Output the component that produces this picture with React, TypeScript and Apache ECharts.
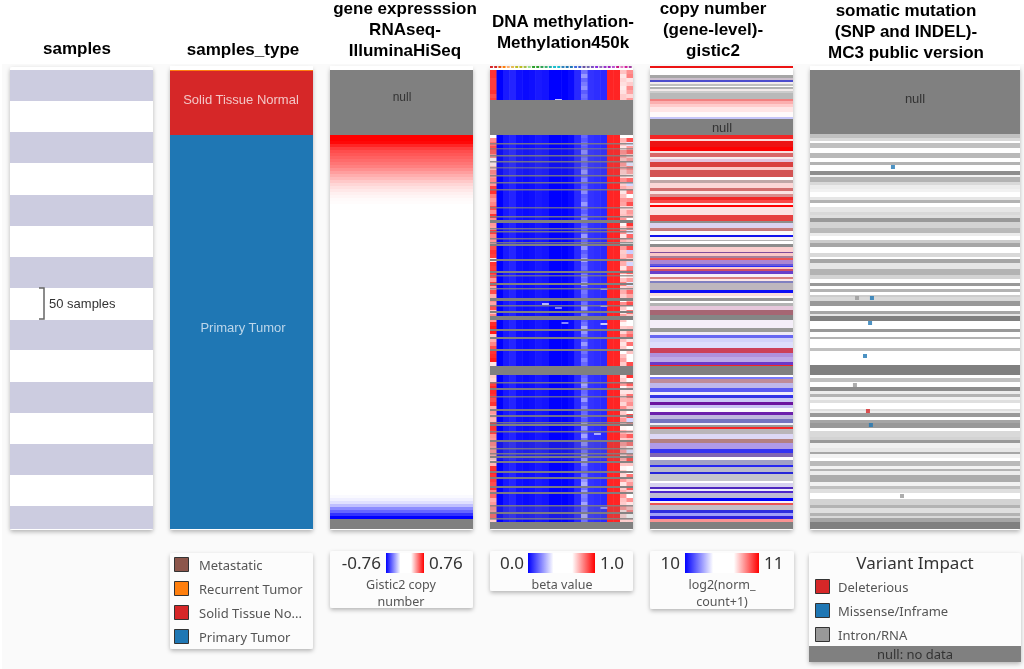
import React, { useEffect, useRef } from "react";
import * as echarts from "echarts";

// ---------- data ----------
const panelTitles = [
  { lines: ["samples"], cx: 77, firstY: 48 },
  { lines: ["samples_type"], cx: 243, firstY: 49 },
  { lines: ["gene expresssion", "RNAseq-", "IlluminaHiSeq"], cx: 405, firstY: 8 },
  { lines: ["DNA methylation-", "Methylation450k"], cx: 563, firstY: 21 },
  { lines: ["copy number", "(gene-level)-", "gistic2"], cx: 713, firstY: 8 },
  { lines: ["somatic mutation", "(SNP and INDEL)-", "MC3 public version"], cx: 906, firstY: 10 },
];

// row edges of the alternating 50-sample bands
const sampleBandEdges = [4, 35, 66, 97, 129, 160, 191, 222, 254, 284, 316, 347, 378, 409, 440, 463];

// [rows, category] top to bottom
const sampleTypeRuns: [number, string][] = [
  [4, "blank"], [1, "Recurrent Tumor"], [64, "Solid Tissue Normal"], [394, "Primary Tumor"],
];

// gene expression, z-score like values per three rows
const geneBlankRows = 4;
const geneNullRows = 65;
const geneHighValues = [1, 1, .97, .86, .76, .7, .66, .62, .58, .54, .5, .44, .38, .32, .27, .21, .16, .12, .09, .06, .04, .02, .01];
const geneWhiteRows = 291;
const geneLowValues = [.02, .06, .12, .25, .45, .6, .8, 1];
const geneTailNullRows = 10;

// copy number: [rows, red share, blue share, null share]
const copyNumberRuns: number[][] = [
  [2, .85, 0, .15], [7, 0, 0, 0], [3, 0, 0, .7], [2, .05, .05, .3], [2, 0, .5, .4], [2, .03, 0, .1], [2, 0, 0, .5], [1, 0, 0, 0],
  [2, 0, 0, .6], [2, .03, 0, .1], [2, 0, 0, .4], [6, 0, 0, .55], [2, .45, 0, .1], [3, .3, 0, .03], [3, .2, 0, 0], [5, .1, 0, 0],
  [5, .02, 0, 0], [2, 0, .2, .05], [16, 0, 0, 1], [4, .8, 0, .1], [2, .15, 0, 0], [6, .85, 0, .15], [4, 1, 0, 0], [2, .1, 0, .05],
  [4, .45, 0, .3], [2, .05, 0, .05], [3, .12, .1, .02], [5, .6, 0, .3], [3, .2, 0, .02], [7, .5, 0, .35], [3, 0, 0, 0], [3, .1, 0, .5],
  [5, .15, 0, .02], [3, .4, 0, .35], [3, .1, 0, .03], [3, .3, 0, .3], [3, .8, 0, .1], [3, .7, 0, .05], [2, .08, 0, 0], [2, 1, 0, 0],
  [8, .1, 0, .02], [6, .65, 0, .2], [2, 0, 0, .9], [5, .03, .12, .05], [3, .3, 0, .45], [4, 0, 0, .03], [2, 0, .85, .15], [3, .03, 0, .03],
  [1, 0, 0, .6], [3, 0, 0, 0], [3, 0, 0, .9], [5, .18, 0, .02], [1, .2, .3, .4], [3, .2, 0, .03], [2, .15, .1, .5], [2, .6, 0, .15],
  [4, .15, .3, .05], [2, .05, .5, .2], [1, 0, .8, .05], [2, .2, 0, .02], [2, .5, .1, .2], [3, .15, .55, .1], [3, .02, .03, .02], [2, .35, 0, .3],
  [2, .08, 0, .03], [2, 0, .25, .5], [7, .03, .03, .45], [3, 0, .9, .08], [3, .12, 0, .03], [2, .02, 0, .02], [3, 0, 0, .8], [2, 0, 0, 0],
  [3, 0, 0, .6], [4, .12, .08, .04], [5, .25, .05, .6], [5, 0, 0, .95], [8, .02, .04, .01], [4, 0, 0, .8], [3, .02, .05, .03], [3, 0, .55, .1],
  [4, 0, .15, .05], [6, 0, .12, .03], [5, .55, .1, .2], [4, .12, .3, .03], [5, .08, .25, .02], [3, .2, .55, .05], [1, .8, 0, .1], [9, 0, 0, 1],
  [2, 0, 0, 0], [2, 0, .5, .05], [4, .2, .05, .4], [5, .03, .2, .1], [4, 0, .6, .1], [3, .01, .05, .02], [3, 0, .7, .2], [4, .01, .18, .06],
  [3, .35, .55, .05], [3, .03, .2, .03], [4, 0, .01, .02], [3, .3, .55, .05], [4, .03, .15, .2], [4, 0, .3, .5], [2, 0, .04, .04], [2, 0, 0, .8],
  [2, .8, 0, .1], [5, .02, .02, .5], [5, .02, .12, .03], [4, .2, 0, .6], [6, .08, .3, .03], [4, 0, .75, .1], [4, .1, .3, .4], [3, 0, 0, .01],
  [5, 0, .15, .45], [2, 0, .8, .1], [5, 0, .08, .4], [2, 0, .7, .3], [7, 0, .03, .4], [2, 0, 0, 0], [4, .02, .12, .08], [2, .15, .6, .2],
  [2, 0, .05, .03], [2, .15, .65, .1], [5, .02, .1, .3], [3, 0, 1, 0], [2, .02, .02, .03], [2, .6, 0, .15], [5, .02, .03, .4], [3, 0, .7, .25],
  [3, 0, .35, .05], [3, .05, .75, .15], [3, .4, 0, .05], [7, 0, 0, 1],
];

// somatic mutation: [rows, share of intron/no-call samples]
const mutationRuns: number[][] = [
  [4, 0], [64, 1], [4, .5], [3, .3], [2, 0], [5, .5], [5, 0], [5, .55], [4, 0], [3, .6], [6, 0], [4, .9], [2, .1], [5, .6], [3, .3],
  [4, .15], [3, .1], [5, 0], [3, .2], [3, .6], [4, 0], [5, .2], [3, .3], [3, .25], [4, .8], [6, .35], [5, .55], [3, .15], [4, 0],
  [3, .4], [4, .7], [6, 0], [4, .3], [2, 0], [4, .7], [6, .2], [6, .6], [4, .35], [4, 0], [3, .8], [3, 0], [3, .6], [3, 0], [2, .4],
  [4, .3], [5, .8], [5, 0], [3, .7], [2, .2], [5, 1], [8, 0], [3, .8], [5, 0], [2, .6], [9, 0], [3, .5], [14, 0], [10, 1], [3, 0],
  [4, .5], [5, 0], [4, .9], [3, .15], [3, .6], [3, .1], [3, .25], [6, 0], [2, .25], [2, .15], [4, .8], [3, 0], [3, .7], [5, .8], [3, 0],
  [6, .3], [3, .35], [3, .8], [5, .12], [4, .2], [2, .7], [4, .1], [3, 0], [5, .55], [3, .1], [2, .6], [4, .15], [7, .65], [4, .1],
  [3, .5], [4, .25], [6, 0], [6, .35], [3, .6], [5, .25], [3, .6], [2, .3], [4, .7], [7, 1],
];
const missenseDots = [[.395, 101], [.295, 232], [.286, 257], [.262, 290], [.29, 359]];
const deleteriousDots = [[.276, 345]];
const intronDots = [[.224, 232], [.214, 319], [.438, 430]];

// methylation: beta value of each probe column
const methProbeBeta = [0, 0, .05, .07, .03, .02, .03, .05, .04, 0, 0, 0, .02, .08, .2, .1, .09, .08, .93, .93, .6, .7];
// varying probes, one value per four rows from the top of the matrix
const methFirstProbe = [
  .9, .9, .88, .88, .88, .9, .85, .88, .5, .5, .5, .5, .5, .5, .5, .5, .5,
  .72, .78, .85, .82, .72, .52, .54, .62, .74, .7,
  .74, .7, .88, .9, .76, .7, .74, .85, .72, .9,
  .72, .7, .68, .88, .74, .7, .66, .85, .9, .88,
  .55, .9, .88, .9, .85, .7, .88, .68, .85, .66,
  .72, .68, .85, .62, .74, .7, .92, .95, .95, .6,
  .66, .74, .85, .9, .92, .95, .55, .5, .5, .6,
  .58, .88, .92, .92, .9, .85, .9, .66, .7, .66,
  .64, .92, .9, .88, .72, .7, .74, .68, .7, .66,
  .6, .64, .9, .92, .9, .88, .85, .9, .74, .8,
  .66, .7, .72, .68, .8, .6, .55, .5,
];
const methProbe20 = [
  .62, .55, .58, .56, .54, .56, .6, .6, .5, .5, .5, .5, .5, .5, .5, .5, .5,
  .65, .6, .55, .72, .68, .62, .7, .66, .6, .58,
  .72, .6, .66, .55, .62, .7, .68, .58, .6, .62,
  .7, .52, .6, .72, .55, .66, .5, .7, .6, .62,
  .68, .66, .55, .7, .52, .62, .75, .58, .66, .6,
  .5, .72, .6, .55, .68, .62, .52, .6, .58, .7,
  .62, .55, .6, .5, .62, .68, .6, .5, .5, .55,
  .6, .7, .52, .55, .6, .65, .58, .72, .6, .62,
  .7, .6, .52, .66, .72, .6, .7, .62, .68, .58,
  .66, .62, .52, .6, .58, .7, .55, .6, .66, .7,
  .62, .6, .7, .55, .58, .6, .52, .5,
];
const methProbe21 = [
  .72, .75, .55, .6, .72, .68, .58, .7, .5, .5, .5, .5, .5, .5, .5, .5, .5,
  .85, .45, .7, .82, .6, .7, .45, .75, .68, .55,
  .8, .42, .62, .78, .5, .72, .85, .58, .7, .66,
  .5, .9, .72, .45, .8, .62, .5, .85, .4, .72,
  .6, .42, .75, .82, .55, .7, .45, .62, .8, .68,
  .72, .85, .5, .78, .6, .5, .5, .62, .72, .8,
  .55, .78, .5, .62, .5, .5, .85, .5, .5, .9,
  .5, .82, .62, .55, .78, .66, .72, .6, .5, .85,
  .42, .72, .5, .6, .82, .62, .78, .52, .45, .7,
  .85, .62, .5, .5, .78, .62, .7, .82, .6, .5,
  .72, .55, .62, .75, .5, .6, .55, .5,
];
const methProbe14 = [
  .22, .3, .2, .24, .28, .18, .22, .2, .2, .2, .2, .2, .2, .2, .2, .2, .2,
  .17, .21, .18, .27, .2, .23, .18, .22, .29, .2,
  .25, .18, .21, .27, .18, .2, .3, .21, .18, .23,
  .27, .18, .22, .18, .3, .2, .25, .29, .18, .22,
  .32, .2, .22, .18, .25, .22, .3, .18, .23, .2,
  .18, .22, .32, .2, .25, .18, .22, .34, .29, .22,
  .18, .3, .2, .22, .18, .25, .2, .2, .2, .2,
  .23, .32, .27, .2, .22, .3, .18, .25, .2, .22,
  .18, .34, .29, .22, .32, .22, .27, .18, .22, .3,
  .32, .27, .2, .18, .23, .29, .34, .22, .3, .25,
  .23, .32, .22, .25, .34, .22, .27, .22,
];
// isolated pale cells: [probe, row, beta]
const methPaleCells = [[10, 33, .38], [8, 237, .36], [17, 222, .34], [17, 239, .36], [17, 257, .4], [11, 256, .26], [10, 241, .24], [16, 367, .34], [17, 441, .3]];
// rows with missing methylation: [row, rows, share of missing]
const methMissingRuns = [
  [34, 35, 1], [77, 1.5, .85], [82, 1.5, .65], [89, 1.5, .85], [95, 1.5, .85], [101, 1.5, .65], [109, 1.5, .85], [116, 1.5, .85], [123, 1.5, .85],
  [141, 1.5, .75], [150, 1.5, .85], [154, 3, 1], [162, 1.5, .85], [165, 1.5, .85], [172, 1.5, .85], [176, 1.5, .85], [178, 2, 1], [193, 2, 1],
  [205, 2, 1], [209, 1.5, .75], [217, 2, 1], [222, 1.5, .85], [232, 3, 1], [239, 1.5, .85], [245, 2, 1], [250, 4, 1], [263, 2, 1],
  [271, 2, 1], [283, 2, 1], [300, 9, 1], [316, 1.5, .85], [322, 2, .95], [330, 1.5, .75], [343, 2, .95], [349, 2, .85], [356, 1.5, .85],
  [358, 2, 1], [365, 1.5, .85], [374, 2, .95], [382, 1.5, .85], [387, 1.5, .85], [390, 2, .95], [395, 2, .95], [405, 2, .95], [411, 2, .95],
  [420, 2, .95], [426, 2, .95], [439, 1.5, .85], [446, 2, .95], [452, 1.5, .85], [456, 7, 1],
];
const methDimRuns = [[84, 25, .12], [374, 20, .18], [439, 15, .2]];
const methHeaderColors = [
  "#d62728", "#d62728", "#e6550d", "#ff7f0e", "#fdae6b", "#e7ba52", "#bcbd22", "#bcbd22", "#a6c048", "#98df8a", "#2ca02c", "#2ca02c",
  "#31a354", "#3cb371", "#20b2aa", "#17becf", "#17becf", "#3182bd", "#1f77b4", "#1f77b4", "#4169e1", "#3d5acb", "#6a51a3", "#756bb1",
  "#7b4fc0", "#8a2be2", "#9467bd", "#9932cc", "#a020c0", "#ba55d3", "#c71585", "#e377c2", "#d020a0", "#a040a0",
];

const sampleTypeLegend = ["Metastatic", "Recurrent Tumor", "Solid Tissue No...", "Primary Tumor"];
const variantLegend = ["Deleterious", "Missense/Inframe", "Intron/RNA"];

// ---------- styles ----------
const TOP = 66;
const ROWS = 463;
const GRIDS = [
  { left: 10, width: 143 },
  { left: 170, width: 143 },
  { left: 330, width: 143 },
  { left: 490, width: 143 },
  { left: 650, width: 143 },
  { left: 810, width: 210 },
];
const LAVENDER = "#cccce0";
const TYPE_COLORS: Record<string, string> = {
  blank: "#ffffff",
  Metastatic: "#8c564b",
  "Recurrent Tumor": "#ff7f0e",
  "Solid Tissue Normal": "#d62728",
  "Solid Tissue No...": "#d62728",
  "Primary Tumor": "#1f77b4",
};
const mix = (r: number, b: number, g: number) => {
  const w = Math.max(0, 1 - r - b - g);
  const c = (rv: number, bv: number, gv: number) => Math.round(rv * r + bv * b + gv * g + 255 * w);
  return `rgb(${c(255, 0, 128)},${c(0, 0, 128)},${c(0, 255, 128)})`;
};
const betaColor = (beta: number) => (beta >= .5 ? mix((beta - .5) * 2, 0, 0) : mix(0, (.5 - beta) * 2, 0));

type Cell = { x0: number; x1: number; y0: number; y1: number; color: string; opacity?: number };

function customSeries(gridIndex: number, cells: Cell[], overlap = 0) {
  return {
    type: "custom",
    xAxisIndex: gridIndex,
    yAxisIndex: gridIndex,
    silent: true,
    clip: true,
    z: 2,
    encode: { x: [0, 1], y: [2, 3] },
    data: cells.map((c) => [c.x0, c.x1, c.y0, c.y1]),
    renderItem: (params: any, api: any) => {
      const cell = cells[params.dataIndex];
      const a = api.coord([api.value(0), api.value(2)]);
      const b = api.coord([api.value(1), api.value(3)]);
      return {
        type: "rect",
        shape: { x: a[0], y: a[1], width: b[0] - a[0] + overlap, height: b[1] - a[1] },
        style: { fill: cell.color, opacity: cell.opacity ?? 1 },
      };
    },
  };
}

function runsToCells(runs: number[][], xMax: number, colorOf: (run: number[]) => string) {
  let row = 0;
  return runs.map((run) => {
    const cell = { x0: 0, x1: xMax, y0: row, y1: row + run[0], color: colorOf(run) };
    row += run[0];
    return cell;
  });
}

function buildOption() {
  const samplesCells: Cell[] = [];
  for (let i = 0; i < sampleBandEdges.length - 1; i += 2) {
    samplesCells.push({ x0: 0, x1: 1, y0: sampleBandEdges[i], y1: sampleBandEdges[i + 1], color: LAVENDER });
  }

  let typeRow = 0;
  const typeCells = sampleTypeRuns.map(([n, name]) => {
    const c = { x0: 0, x1: 1, y0: typeRow, y1: typeRow + n, color: TYPE_COLORS[name] };
    typeRow += n;
    return c;
  });

  const geneRuns: number[][] = [
    [geneBlankRows, 0, 0, 0],
    [geneNullRows, 0, 0, 1],
    ...geneHighValues.map((v) => [3, v, 0, 0]),
    [geneWhiteRows, 0, 0, 0],
    ...geneLowValues.map((v) => [3, 0, v, 0]),
    [geneTailNullRows, 0, 0, 1],
  ];
  const geneCells = runsToCells(geneRuns, 1, (r) => mix(r[1], r[2], r[3]));
  const copyCells = runsToCells(copyNumberRuns, 1, (r) => mix(r[1], r[2], r[3]));
  const mutationCells = runsToCells(mutationRuns, 1, (r) => mix(0, 0, r[1]));

  const methCells: Cell[] = [];
  methHeaderColors.forEach((color, i) => {
    const step = 22 / methHeaderColors.length;
    methCells.push({ x0: i * step, x1: (i + .6) * step, y0: 0, y1: 2, color });
  });
  methFirstProbe.forEach((first, bin) => {
    const y0 = 4 + bin * 4;
    methProbeBeta.forEach((base, probe) => {
      let beta = base;
      if (probe === 0) beta = first;
      if (probe === 14) beta = methProbe14[bin];
      if (probe === 20) beta = methProbe20[bin];
      if (probe === 21) beta = methProbe21[bin];
      methCells.push({ x0: probe, x1: probe + 1, y0, y1: y0 + 4, color: betaColor(beta) });
    });
  });
  methPaleCells.forEach(([probe, row, beta]) => {
    methCells.push({ x0: probe, x1: probe + 1, y0: row, y1: row + 2, color: betaColor(beta) });
  });
  methDimRuns.concat(methMissingRuns).forEach(([row, n, share]) => {
    methCells.push({ x0: 0, x1: 22, y0: row, y1: row + n, color: "#808080", opacity: share });
  });

  const series: any[] = [
    customSeries(0, samplesCells),
    customSeries(1, typeCells),
    customSeries(2, geneCells),
    customSeries(3, methCells, .4),
    customSeries(4, copyCells),
    customSeries(5, mutationCells),
    ...[
      { data: missenseDots, color: "#1f77b4" },
      { data: deleteriousDots, color: "#d62728" },
      { data: intronDots, color: "#999999" },
    ].map((d) => ({
      type: "scatter",
      xAxisIndex: 5,
      yAxisIndex: 5,
      silent: true,
      z: 3,
      symbol: "rect",
      symbolSize: 4,
      itemStyle: { color: d.color },
      data: d.data,
    })),
  ];

  const SANS = "'Noto Sans', 'Open Sans', sans-serif";
  const TITLE = "'Liberation Sans', Arial, sans-serif";
  const text = (str: string, x: number, y: number, size: number, fill: string, align = "center", family = SANS, weight = "normal") => ({
    type: "text",
    z: 20,
    x,
    y,
    silent: true,
    style: { text: str, fill, font: `${weight} ${size}px ${family}`, textAlign: align, textVerticalAlign: "middle" },
  });
  const card = (x: number, y: number, w: number, h: number, fill = "#fcfcfc") => ({
    type: "rect",
    z: 1,
    silent: true,
    shape: { x, y, width: w, height: h, r: 2 },
    style: { fill, shadowBlur: 4, shadowOffsetY: 2, shadowColor: "rgba(0,0,0,0.28)" },
  });
  const swatch = (x: number, y: number, fill: string) => ({
    type: "rect",
    z: 20,
    silent: true,
    shape: { x: x + .5, y: y + .5, width: 14, height: 14 },
    style: { fill, stroke: "#333333", lineWidth: 1 },
  });
  const gradientBar = (x: number, w: number) => ({
    type: "rect",
    z: 20,
    silent: true,
    shape: { x, y: 553, width: w, height: 20 },
    style: {
      fill: new echarts.graphic.LinearGradient(0, 0, 1, 0, [
        { offset: 0, color: "#0000ff" },
        { offset: .38, color: "#ffffff" },
        { offset: .66, color: "#ffffff" },
        { offset: 1, color: "#ff0000" },
      ]),
    },
  });

  const graphics: any[] = [
    { type: "rect", z: 0, silent: true, shape: { x: 2, y: 64, width: 1022, height: 605 }, style: { fill: "#fafafa" } },
    ...GRIDS.map((g) => card(g.left, 67, g.width, 463, "#ffffff")),
    card(170, 553, 143, 96),
    card(330, 551, 143, 57),
    card(490, 551, 143, 40),
    card(650, 551, 144, 58),
    card(809, 553, 212, 109),
    { type: "rect", z: 5, silent: true, shape: { x: 809, y: 646, width: 212, height: 16 }, style: { fill: "#808080" } },
  ];

  panelTitles.forEach((t) => {
    t.lines.forEach((line, i) => {
      graphics.push(text(line, t.cx, t.firstY + i * 21, 17, "#000000", "center", TITLE, "bold"));
    });
  });

  graphics.push(
    { type: "polyline", z: 20, silent: true, shape: { points: [[39, 288], [44, 288], [44, 319], [39, 319]] }, style: { stroke: "#666666", lineWidth: 1.5, fill: "none" } },
    text("50 samples", 49, 303, 13, "#333333", "left", TITLE),
    text("Solid Tissue Normal", 241, 99, 13, "#f3c6c6", "center", TITLE),
    text("Primary Tumor", 243, 327, 13, "#bcd6ea", "center", TITLE),
    text("null", 402, 97, 12, "#333333", "center", TITLE),
    text("null", 722, 127, 13, "#333333", "center", TITLE),
    text("null", 915, 98, 13, "#333333", "center", TITLE),
  );

  sampleTypeLegend.forEach((name, i) => {
    graphics.push(swatch(174, 557 + i * 24, TYPE_COLORS[name]));
    graphics.push(text(name, 199, 565 + i * 23.9, 13, "#555555", "left"));
  });

  graphics.push(
    gradientBar(386, 38),
    text("-0.76", 381, 562, 17, "#333333", "right"),
    text("0.76", 429, 562, 17, "#333333", "left"),
    text("Gistic2 copy", 401, 584, 12.5, "#555555"),
    text("number", 401, 601, 12.5, "#555555"),
    gradientBar(528, 67),
    text("0.0", 524, 562, 17, "#333333", "right"),
    text("1.0", 600, 562, 17, "#333333", "left"),
    text("beta value", 562, 584, 12.5, "#555555"),
    gradientBar(685, 74),
    text("10", 680, 562, 17, "#333333", "right"),
    text("11", 764, 562, 17, "#333333", "left"),
    text("log2(norm_", 722, 584, 12.5, "#555555"),
    text("count+1)", 722, 601, 12.5, "#555555"),
    text("Variant Impact", 915, 562, 17, "#333333"),
    text("null: no data", 915, 654, 13, "#333333"),
  );
  variantLegend.forEach((name, i) => {
    graphics.push(swatch(815, 579 + i * 24, ["#d62728", "#1f77b4", "#999999"][i]));
    graphics.push(text(name, 838, 587 + i * 24, 13, "#555555", "left"));
  });

  const xMax = [1, 1, 1, 22, 1, 1];
  return {
    animation: false,
    backgroundColor: "#ffffff",
    grid: GRIDS.map((g) => ({ left: g.left, width: g.width, top: TOP, height: ROWS, show: false })),
    xAxis: GRIDS.map((_, i) => ({ type: "value", gridIndex: i, min: 0, max: xMax[i], show: false })),
    yAxis: GRIDS.map((_, i) => ({ type: "value", gridIndex: i, min: 0, max: ROWS, inverse: true, show: false })),
    series,
    graphic: { elements: graphics },
  };
}

export default function App() {
  const ref = useRef<HTMLDivElement>(null);
  useEffect(() => {
    document.body.style.margin = "0";
    const chart = echarts.init(ref.current!, undefined, { renderer: "svg" });
    chart.setOption(buildOption() as any);
    return () => chart.dispose();
  }, []);
  return <div ref={ref} style={{ width: 1024, height: 669, filter: "blur(0.5px)" }} />;
}
